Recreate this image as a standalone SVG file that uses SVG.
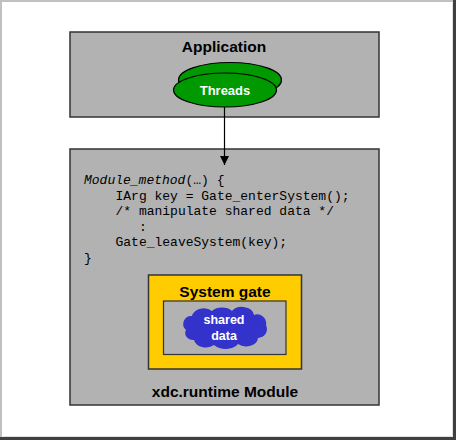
<svg xmlns="http://www.w3.org/2000/svg" width="456" height="440" viewBox="0 0 456 440">
<style>
.box{fill:#b2b2b2;stroke:#333;stroke-width:1.5}
.title{font-family:"Liberation Sans",Arial,sans-serif;font-weight:bold;font-size:15.5px;fill:#000;text-anchor:middle}
.wt{font-family:"Liberation Sans",Arial,sans-serif;font-weight:bold;font-size:12.5px;fill:#fff;text-anchor:middle}
.code{font-family:"Liberation Mono","Courier New",monospace;font-size:13px;fill:#000}
</style>
<defs>
<marker id="ah" viewBox="0 0 10 10" refX="10" refY="5" markerWidth="9" markerHeight="9" markerUnits="userSpaceOnUse" orient="auto">
<path d="M0,0 L10,5 L0,10 z" fill="#000"/>
</marker>
</defs>
<rect x="0" y="0" width="456" height="440" fill="#fff"/>
<path d="M1,440 V1 H456" fill="none" stroke="#c0c0c0" stroke-width="2"/>
<path d="M454.5,0 V438.5 H0" fill="none" stroke="#404040" stroke-width="3"/>
<path d="M452.5,3 V436.5 H3" fill="none" stroke="#e0e0e0" stroke-width="1"/>

<g id="application">
<rect class="box" x="70" y="32" width="309" height="85"/>
<text class="title" x="224" y="52">Application</text>
</g>
<g id="threads">
<ellipse cx="230" cy="80" rx="51.5" ry="17.5" fill="#009900" stroke="#000" stroke-width="1.2"/>
<ellipse cx="225" cy="90" rx="51.5" ry="17" fill="#009900" stroke="#000" stroke-width="1.2"/>
<text class="wt" x="225" y="94.5" style="font-size:13px">Threads</text>
</g>
<g id="module">
<rect class="box" x="70" y="149" width="309" height="256"/>
<text class="code" x="84" y="184"><tspan font-style="italic">Module_method</tspan>(…) {</text>
<text class="code" x="115.5" y="199.5">IArg key = Gate_enterSystem();</text>
<text class="code" x="115.5" y="215">/* manipulate shared data */</text>
<text class="code" x="139" y="230.5">:</text>
<text class="code" x="115.5" y="246">Gate_leaveSystem(key);</text>
<text class="code" x="84" y="261.5">}</text>
<text class="title" x="225" y="397">xdc.runtime Module</text>
</g>
<g id="systemgate">
<rect x="148.5" y="275" width="153" height="94" fill="#ffcc00" stroke="#333" stroke-width="1.5"/>
<rect x="163.5" y="301" width="122.5" height="53.5" fill="#b2b2b2" stroke="#333" stroke-width="1.2"/>
<text class="title" x="225" y="297">System gate</text>
</g>
<g id="shareddata">
<path d="M186,330 a8,8 0 0 1 6,-14 a12,10 0 0 1 20,-5 a12,8 0 0 1 20,0 a12,9 0 0 1 22,4 a9,9 0 0 1 12,10 a9,9 0 0 1 -8,13 a12,9 0 0 1 -20,6 a14,9 0 0 1 -24,1 a12,9 0 0 1 -20,-5 a8,7 0 0 1 -8,-10 z" fill="#3333cc"/>
<text class="wt" x="224" y="324">shared</text>
<text class="wt" x="224" y="339.5">data</text>
</g>
<g id="connectors">
<line x1="224.5" y1="107" x2="224.5" y2="165" stroke="#000" stroke-width="1.2" marker-end="url(#ah)"/>
</g>
</svg>
